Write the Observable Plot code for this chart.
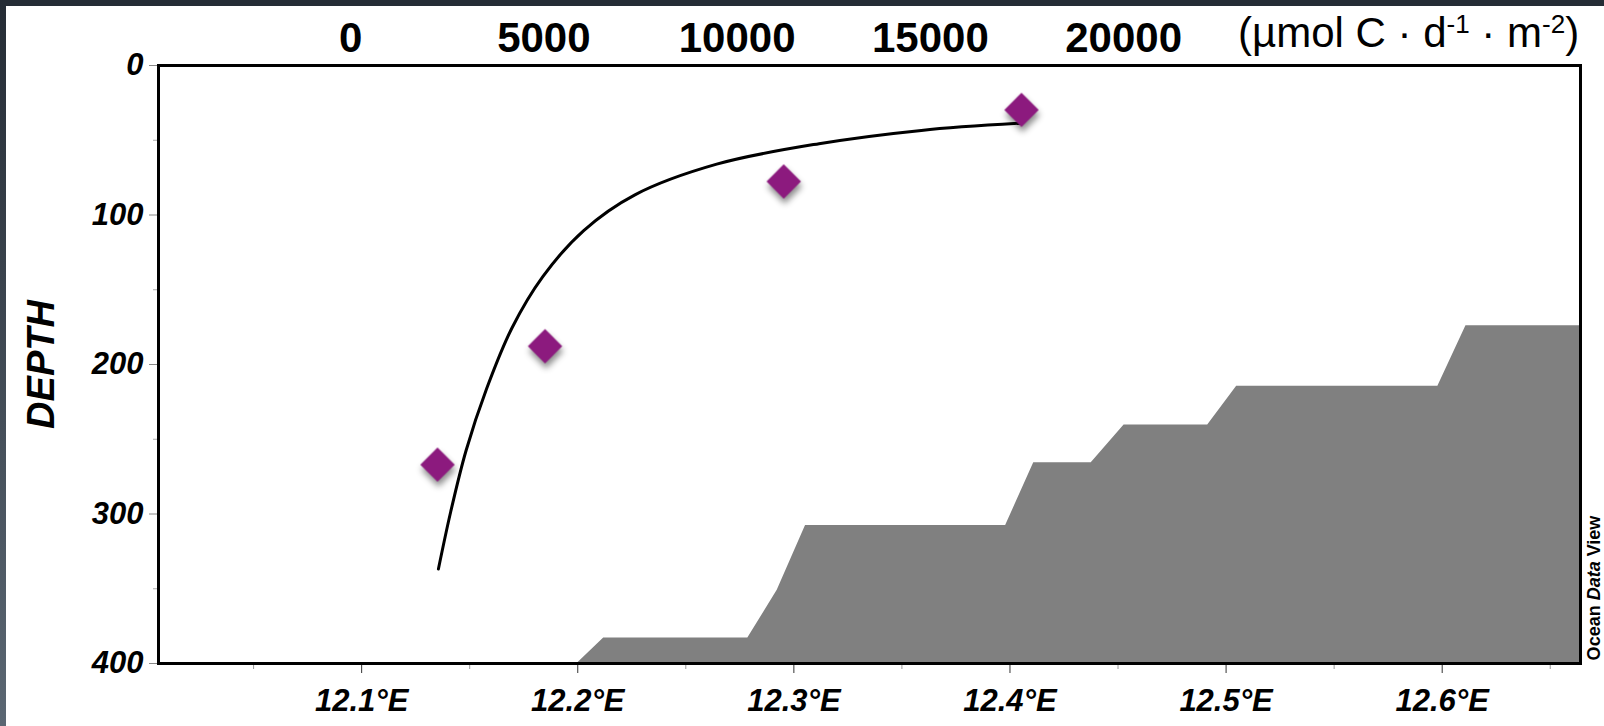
<!DOCTYPE html>
<html>
<head>
<meta charset="utf-8">
<script src="https://cdn.jsdelivr.net/npm/d3@7"></script>
<script src="https://cdn.jsdelivr.net/npm/@observablehq/plot@0.6"></script>
<style>
  html, body { margin: 0; padding: 0; background: #fff; }
  body { width: 1604px; height: 726px; overflow: hidden; position: relative;
         font-family: "Liberation Sans", Arial, sans-serif; }
  #edgeTop { position: absolute; left: 0; top: 0; width: 1604px; height: 6px; background: #252c35; }
  #edgeLeft { position: absolute; left: 0; top: 0; width: 6px; height: 726px;
              background: linear-gradient(#252c35, #5b6773); }
  #chart { position: absolute; left: 0; top: 0; width: 1604px; height: 726px; }
  #chart svg { position: absolute; left: 0; top: 0; }
  #unit { position: absolute; left: 1238px; top: 12px; font-size: 42px; color: #000; white-space: nowrap; line-height: 1; }
  #unit sup { font-size: 0.62em; vertical-align: 0.55em; line-height: 0; }
  #odv { position: absolute; left: 1594px; top: 588px; font-size: 18px; font-weight: bold; color: #000;
         white-space: nowrap; transform: translate(-50%, -50%) rotate(-90deg); }
</style>
</head>
<body>
<div id="chart"></div>
<div id="unit">(µmol C · d<sup>-1</sup> · m<sup>-2</sup>)</div>
<div id="odv">Ocean <i>Data</i> View</div>
<div id="edgeTop"></div>
<div id="edgeLeft"></div>
<script>
// Section depth axis (m)
const depthDomain = [0, 400];
const depthMajor = [0, 100, 200, 300, 400];
const depthMinor = [50, 150, 250, 350];

// Longitude axis (°E)
const lonDomain = [12.006, 12.664];
const lonMajor = [12.1, 12.2, 12.3, 12.4, 12.5, 12.6];
const lonMinor = [12.05, 12.15, 12.25, 12.35, 12.45, 12.55, 12.65];

// Seafloor outline along the section
const bathyLon   = [12.1997, 12.212, 12.2787, 12.2923, 12.3054, 12.398, 12.411, 12.4376, 12.4528, 12.4915, 12.5049, 12.598, 12.611, 12.664];
const bathyDepth = [400,     383,    383,     351,     307.7,   307.7,  265.8,  265.8,   240.5,   240.5,   214.5,   214.5,  174,    174];

// Primary production axis (µmol C · d-1 · m-2), top
const prodDomain = [-4970, 31820];
const prodTicks = [0, 5000, 10000, 15000, 20000];

// Measured production at depth
const obsProd  = [17358, 11207, 5031, 2249];
const obsDepth = [29.7, 77.6, 187.8, 267];

// Fitted attenuation curve
const fitProd  = [2272, 2590, 2988, 3516, 4178, 4973, 6031, 7356, 9472, 12119, 14766, 17335];
const fitDepth = [336.8, 298.5, 257.5, 216.4, 175.4, 141.2, 110.4, 86.5, 66, 52.3, 43.4, 38.6];

const W = 1604, H = 726;
const M = {marginLeft: 158, marginTop: 65, marginRight: 24, marginBottom: 63};
const font = {fontFamily: "Liberation Sans, Arial, sans-serif"};

const bathy = bathyLon.map((lon, i) => ({lon, depth: bathyDepth[i]}));
const obs = obsProd.map((prod, i) => ({prod, depth: obsDepth[i]}));
const fit = fitProd.map((prod, i) => ({prod, depth: fitDepth[i]}));

const section = Plot.plot({
  width: W, height: H, ...M,
  style: {...font, background: "transparent", color: "#000"},
  x: {domain: lonDomain},
  y: {domain: depthDomain, reverse: true},
  marks: [
    Plot.areaY(bathy, {x: "lon", y1: 400, y2: "depth", fill: "#808080", curve: "linear"}),
    Plot.axisX({ticks: lonMinor, tickSize: 6, stroke: "#9a9a9a", tickFormat: () => "", label: null}),
    Plot.axisX({ticks: lonMajor, tickSize: 10, tickPadding: 15, stroke: "#333",
      tickFormat: d => d.toFixed(1) + "°E", label: null,
      fontFamily: "Liberation Sans Narrow, Liberation Sans, Arial, sans-serif",
      fontSize: 31, fontWeight: "bold", fontStyle: "italic"}),
    Plot.axisY({ticks: depthMinor, tickSize: 5, stroke: "#aaa", tickFormat: () => "", label: null}),
    Plot.axisY({ticks: depthMajor, tickSize: 9, tickPadding: 6, stroke: "#888",
      tickFormat: d => String(d), label: null,
      fontSize: 31, fontWeight: "bold", fontStyle: "italic"}),
    Plot.text(["DEPTH"], {frameAnchor: "left", textAnchor: "middle", rotate: -90, dx: -117,
      fontSize: 38, fontWeight: "bold", fontStyle: "italic"}),
    Plot.frame({stroke: "#000", strokeWidth: 3})
  ]
});

const production = Plot.plot({
  width: W, height: H, ...M,
  style: {...font, background: "transparent", color: "#000"},
  x: {domain: prodDomain},
  y: {domain: depthDomain, reverse: true, axis: null},
  marks: [
    Plot.axisX({anchor: "top", ticks: prodTicks, tickSize: 0, tickPadding: 14, label: null,
      tickFormat: d => String(d), fontSize: 42, fontWeight: "bold"}),
    Plot.line(fit, {x: "prod", y: "depth", curve: "catmull-rom", stroke: "#000", strokeWidth: 3}),
    Plot.dot(obs, {x: "prod", y: "depth", symbol: "diamond2", r: 15.5, fill: "#8c1a7e", stroke: "none"})
  ]
});

d3.select(production).selectAll('g[aria-label="dot"]')
  .style("filter", "drop-shadow(1px 5px 3px rgba(0,0,0,0.45))");

const chart = document.getElementById("chart");
chart.appendChild(section);
chart.appendChild(production);
</script>
</body>
</html>
